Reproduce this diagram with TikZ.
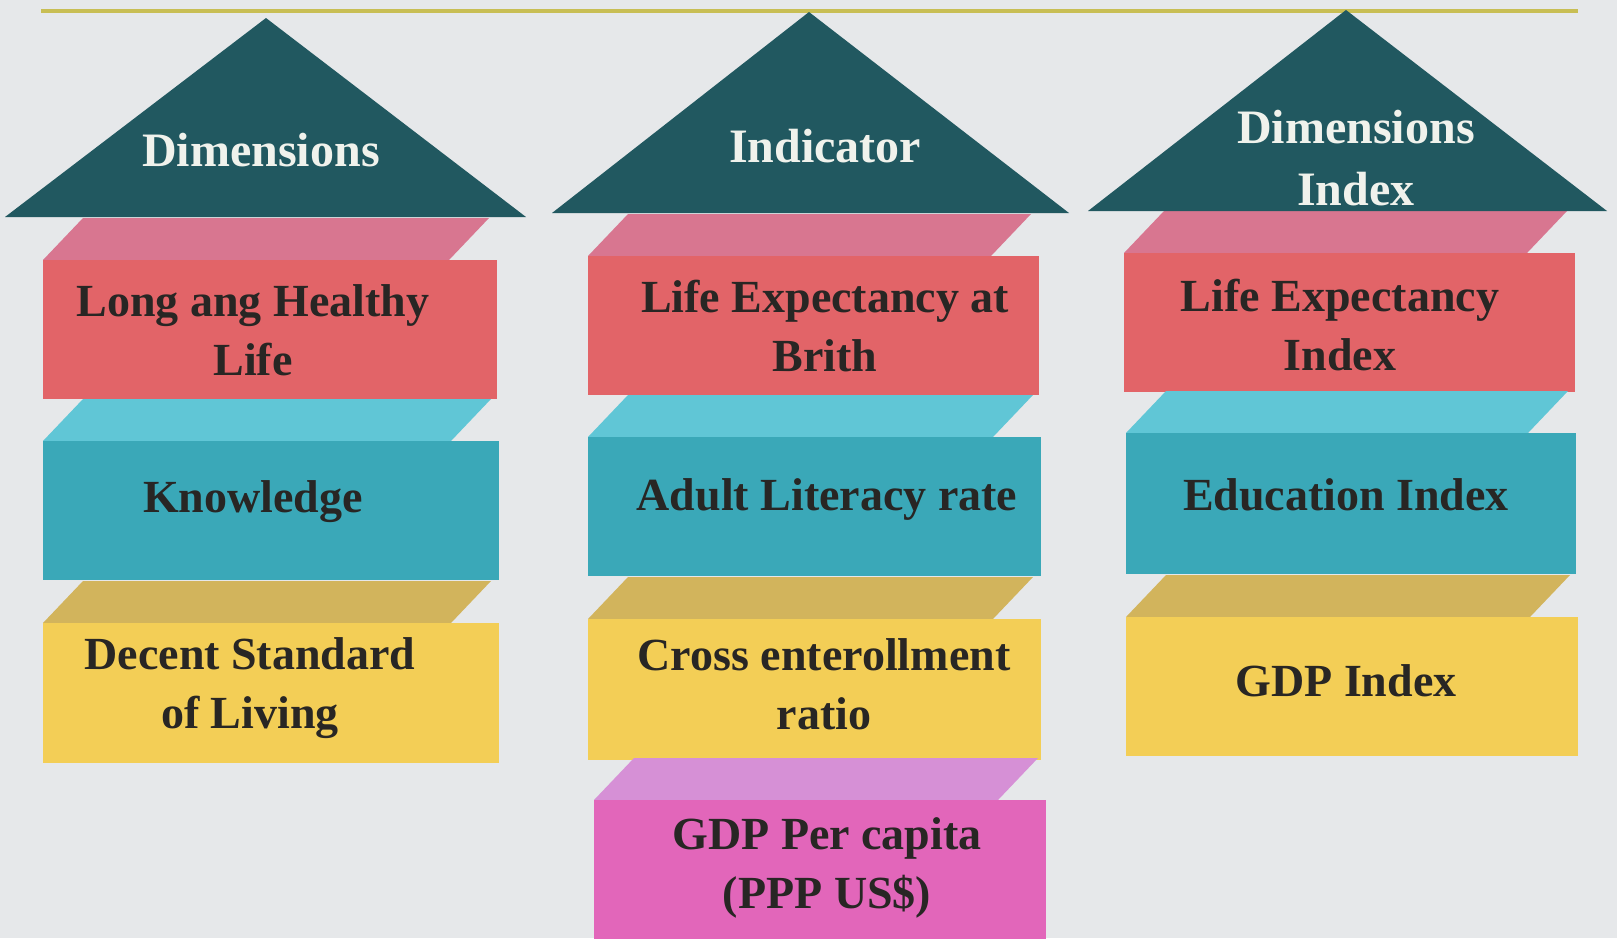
\documentclass[tikz,border=0pt]{standalone}
\usepackage{fontspec}
\setmainfont{Liberation Serif}
\definecolor{bg}{RGB}{230,232,234}
\definecolor{rulecol}{RGB}{200,190,84}
\definecolor{tri}{RGB}{33,88,96}
\definecolor{pinktop}{RGB}{216,118,144}
\definecolor{redfront}{RGB}{226,100,104}
\definecolor{tealtop}{RGB}{96,198,214}
\definecolor{tealfront}{RGB}{58,168,184}
\definecolor{yeltop}{RGB}{210,180,92}
\definecolor{yelfront}{RGB}{243,206,86}
\definecolor{purtop}{RGB}{214,144,214}
\definecolor{magfront}{RGB}{226,102,186}
\definecolor{boxtext}{RGB}{40,38,36}
\definecolor{tritext}{RGB}{240,242,236}
\newcommand\hdibox[6]{%
  \fill[#5] (#1,#3) -- ({#1+40},{#3-42}) -- ({#2-8},{#3-42}) -- ({#2-48},#3) -- cycle;
  \fill[#6] (#1,#3) rectangle (#2,#4);
}
\tikzset{
  boxlbl/.style={align=center, inner sep=0pt, text=boxtext,
    font=\fontsize{23}{29.5}\selectfont\bfseries},
  trilbl/.style={align=center, inner sep=0pt, text=tritext,
    font=\fontsize{24}{31}\selectfont\bfseries},
}
\begin{document}
\begin{tikzpicture}[x=0.5pt,y=-0.5pt]
\fill[bg] (0,0) rectangle (1617,938);
\useasboundingbox (0,0) rectangle (1617,938);
\draw[rulecol, line width=2.2pt] (41,11) -- (1578,11);
% column 1
\hdibox{43}{497}{260}{399}{pinktop}{redfront}
\hdibox{43}{499}{441}{580}{tealtop}{tealfront}
\hdibox{43}{499}{623}{763}{yeltop}{yelfront}
% column 2
\hdibox{588}{1039}{256}{395}{pinktop}{redfront}
\hdibox{588}{1041}{437}{576}{tealtop}{tealfront}
\hdibox{588}{1041}{619}{760}{yeltop}{yelfront}
\hdibox{594}{1046}{800}{940}{purtop}{magfront}
% column 3
\hdibox{1124}{1575}{253}{392}{pinktop}{redfront}
\hdibox{1126}{1576}{433}{574}{tealtop}{tealfront}
\hdibox{1126}{1578}{617}{756}{yeltop}{yelfront}
% triangles
\fill[tri] (266,18) -- (526,217) -- (5,217) -- cycle;
\fill[tri] (809,12) -- (1069,213) -- (552,213) -- cycle;
\fill[tri] (1346,10) -- (1607,211) -- (1088,211) -- cycle;
% labels
\node[trilbl] (t1) at (261,150) {Dimensions};
\node[trilbl] (t2) at (825,146) {Indicator};
\node[trilbl] (t3) at (1356,158) {Dimensions\\Index};
\node[boxlbl] (a1) at (253,330) {Long ang Healthy\\Life};
\node[boxlbl] (a2) at (253,502) {Knowledge};
\node[boxlbl] (a3) at (250,688) {Decent Standard\\of Living};
\node[boxlbl] (b1) at (825,326) {Life Expectancy at\\Brith};
\node[boxlbl] (b2) at (827,499) {Adult Literacy rate};
\node[boxlbl] (b3) at (824,684) {Cross enterollment\\ratio};
\node[boxlbl] (b4) at (827,868) {GDP Per capita\\(PPP US\$)};
\node[boxlbl] (c1) at (1340,325) {Life Expectancy\\Index};
\node[boxlbl] (c2) at (1346,495) {Education Index};
\node[boxlbl] (c3) at (1346,681) {GDP Index};
\end{tikzpicture}
\end{document}
